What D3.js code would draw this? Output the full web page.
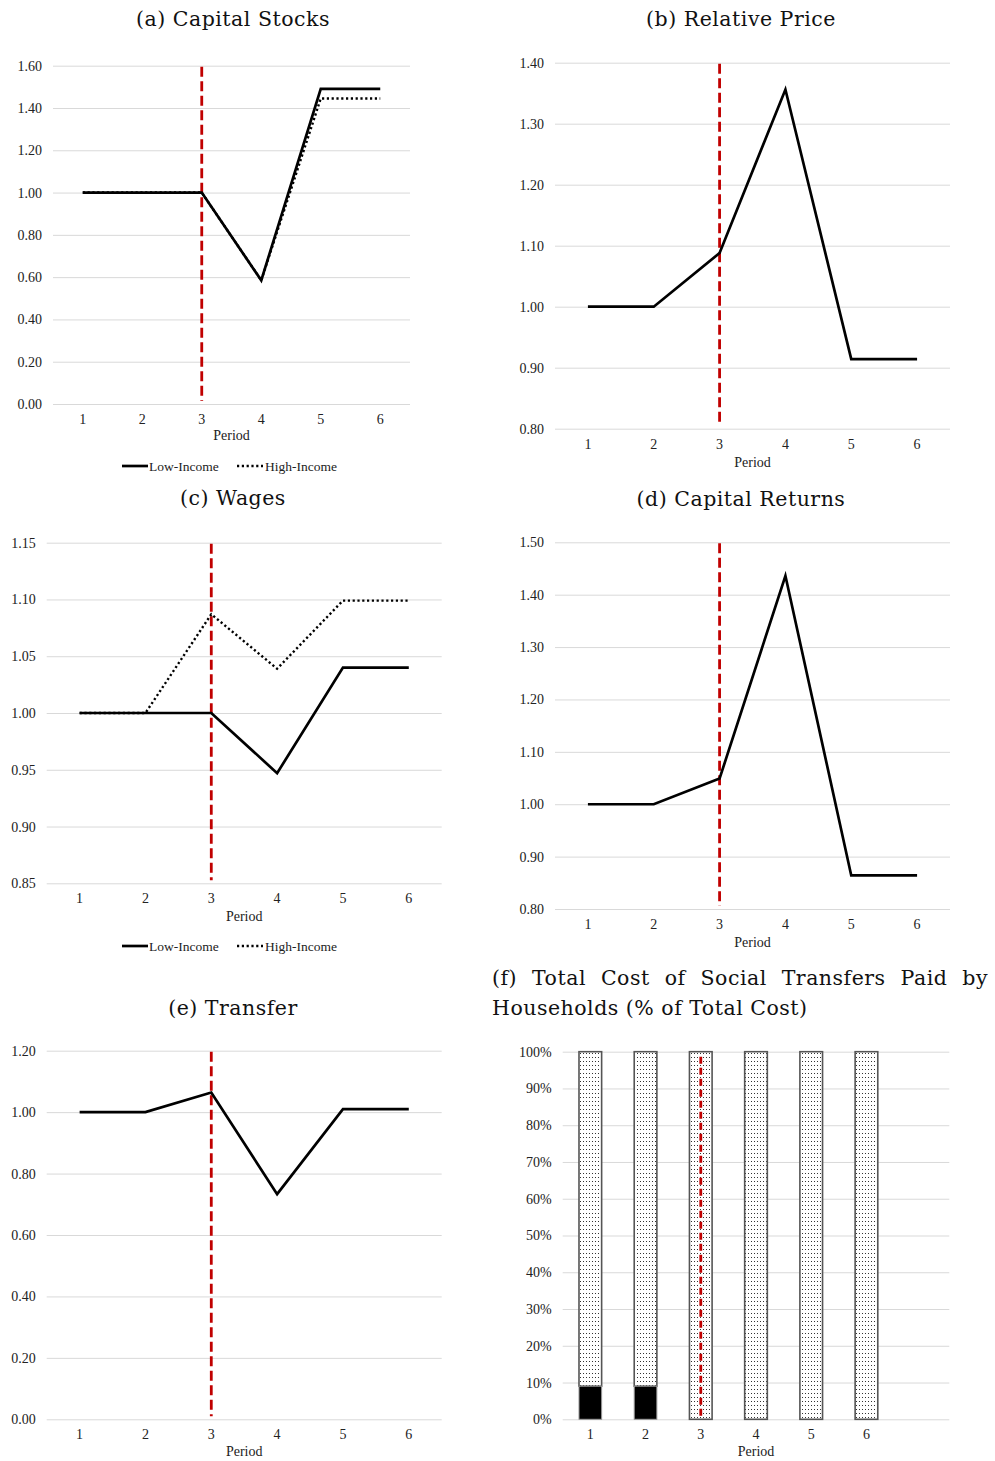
<!DOCTYPE html>
<html>
<head>
<meta charset="utf-8">
<script src="https://cdn.jsdelivr.net/npm/d3@7"></script>
<style>
  body { margin: 0; background: #fff; }
  .tick text { font-family: "Liberation Serif", serif; font-size: 14px; fill: #222; }
  .title { font-family: "DejaVu Serif", serif; font-size: 20.5px; letter-spacing: 0.5px; fill: #111; }
  .axis-label { font-family: "Liberation Serif", serif; font-size: 14px; fill: #222; }
  .legend { font-family: "Liberation Serif", serif; font-size: 13.5px; fill: #222; }
</style>
</head>
<body>
<div id="plot"></div>
<script>
// values
const periods = [1, 2, 3, 4, 5, 6];
const shockPeriod = 3;

const capitalLow  = [1.00, 1.00, 1.00, 0.585, 1.49, 1.49];
const capitalHigh = [1.00, 1.00, 1.00, 0.585, 1.445, 1.445];
const relPrice    = [1.00, 1.00, 1.088, 1.356, 0.914, 0.914];
const wagesLow    = [1.00, 1.00, 1.00, 0.947, 1.040, 1.040];
const wagesHigh   = [1.00, 1.00, 1.087, 1.039, 1.099, 1.099];
const capReturns  = [1.00, 1.00, 1.049, 1.436, 0.864, 0.864];
const transfer    = [1.00, 1.00, 1.064, 0.733, 1.010, 1.010];

// panel (f): share of total cost (%)
const costLowShare  = [9, 9, 0, 0, 0, 0];
const costHighShare = [91, 91, 100, 100, 100, 100];

const ticksCapital  = [0, 0.2, 0.4, 0.6, 0.8, 1.0, 1.2, 1.4, 1.6];
const ticksPrice    = [0.8, 0.9, 1.0, 1.1, 1.2, 1.3, 1.4];
const ticksWages    = [0.85, 0.90, 0.95, 1.00, 1.05, 1.10, 1.15];
const ticksReturns  = [0.8, 0.9, 1.0, 1.1, 1.2, 1.3, 1.4, 1.5];
const ticksTransfer = [0, 0.2, 0.4, 0.6, 0.8, 1.0, 1.2];
const ticksPercent  = [0, 10, 20, 30, 40, 50, 60, 70, 80, 90, 100];

const seriesNames = ["Low-Income", "High-Income"];

const width = 995, height = 1461;

const svg = d3.select("#plot")
  .append("svg")
    .attr("width", width)
    .attr("height", height);

// dotted fill for the bars
const defs = svg.append("defs");
const pat = defs.append("pattern")
    .attr("id", "dots")
    .attr("patternUnits", "userSpaceOnUse")
    .attr("width", 3)
    .attr("height", 4);
pat.append("rect").attr("width", 3).attr("height", 4).attr("fill", "#fff");
pat.append("rect").attr("x", 1).attr("y", 1).attr("width", 1).attr("height", 1).attr("fill", "#333");

function gridAxis(g, y, x0, x1, ticks, fmt) {
  const ax = g.append("g")
      .attr("transform", "translate(" + x0 + ",0)")
      .call(d3.axisLeft(y).tickValues(ticks).tickFormat(fmt).tickSize(-(x1 - x0)).tickPadding(11));
  ax.select(".domain").remove();
  ax.selectAll(".tick line").attr("stroke", "#d9d9d9").attr("stroke-width", 1);
}

function xAxis(g, x, yPos, labelX, labelY) {
  const ax = g.append("g")
      .attr("transform", "translate(0," + yPos + ")")
      .call(d3.axisBottom(x).tickValues(periods).tickSize(0).tickPadding(10));
  ax.select(".domain").remove();
  g.append("text")
      .attr("class", "axis-label")
      .attr("x", labelX)
      .attr("y", labelY)
      .attr("text-anchor", "middle")
      .text("Period");
}

function shockLine(g, x, yTop, yBot, dash) {
  g.append("line")
      .attr("x1", x(shockPeriod) + x.bandwidth() / 2)
      .attr("x2", x(shockPeriod) + x.bandwidth() / 2)
      .attr("y1", yTop)
      .attr("y2", yBot)
      .attr("stroke", "#c00000")
      .attr("stroke-width", 2.8)
      .attr("stroke-dasharray", dash);
}

function linePanel(cfg) {
  const g = svg.append("g");

  g.append("text")
      .attr("class", "title")
      .attr("x", cfg.titleX)
      .attr("y", cfg.titleY)
      .attr("text-anchor", "middle")
      .text(cfg.title);

  const x = d3.scaleBand().domain(periods).range([cfg.x0, cfg.x1]);
  const y = d3.scaleLinear().domain(cfg.domain).range([cfg.yBot, cfg.yTop]);

  gridAxis(g, y, cfg.x0, cfg.x1, cfg.ticks, d3.format(".2f"));
  xAxis(g, x, cfg.yBot, (cfg.x0 + cfg.x1) / 2, cfg.labelY);
  shockLine(g, x, cfg.yTop + 1, cfg.yBot - 3, "10,4.5");

  const line = d3.line()
      .x(function(d, i) { return x(periods[i]) + x.bandwidth() / 2; })
      .y(function(d) { return y(d); });

  if (cfg.high) {
    g.append("path")
        .attr("d", line(cfg.high))
        .attr("fill", "none")
        .attr("stroke", "#000")
        .attr("stroke-width", 2.4)
        .attr("stroke-dasharray", "2.2,2.6");
  }
  g.append("path")
      .attr("d", line(cfg.low))
      .attr("fill", "none")
      .attr("stroke", "#000")
      .attr("stroke-width", 2.7)
      .attr("stroke-linejoin", "miter");

  if (cfg.legendY) {
    const lg = g.append("g").attr("transform", "translate(122," + cfg.legendY + ")");
    lg.append("line").attr("x1", 0).attr("x2", 26).attr("y1", 0).attr("y2", 0)
        .attr("stroke", "#000").attr("stroke-width", 2.7);
    lg.append("text").attr("class", "legend").attr("x", 27).attr("y", 4.5).text(seriesNames[0]);
    lg.append("line").attr("x1", 115).attr("x2", 141).attr("y1", 0).attr("y2", 0)
        .attr("stroke", "#000").attr("stroke-width", 2.4).attr("stroke-dasharray", "2.2,2.6");
    lg.append("text").attr("class", "legend").attr("x", 143).attr("y", 4.5).text(seriesNames[1]);
  }
}

linePanel({ title: "(a) Capital Stocks", titleX: 233, titleY: 26,
  x0: 53, x1: 410, yTop: 65.7, yBot: 404, domain: [0, 1.6], ticks: ticksCapital,
  low: capitalLow, high: capitalHigh, labelY: 440, legendY: 466 });

linePanel({ title: "(b) Relative Price", titleX: 741, titleY: 26,
  x0: 555, x1: 950, yTop: 62.7, yBot: 428.7, domain: [0.8, 1.4], ticks: ticksPrice,
  low: relPrice, labelY: 467 });

linePanel({ title: "(c) Wages", titleX: 233, titleY: 505,
  x0: 46.7, x1: 441.7, yTop: 542.7, yBot: 883.3, domain: [0.85, 1.15], ticks: ticksWages,
  low: wagesLow, high: wagesHigh, labelY: 921, legendY: 946 });

linePanel({ title: "(d) Capital Returns", titleX: 741, titleY: 506,
  x0: 555, x1: 950, yTop: 542.3, yBot: 909, domain: [0.8, 1.5], ticks: ticksReturns,
  low: capReturns, labelY: 947 });

linePanel({ title: "(e) Transfer", titleX: 233, titleY: 1015,
  x0: 46.7, x1: 441.7, yTop: 1050.7, yBot: 1419.3, domain: [0, 1.2], ticks: ticksTransfer,
  low: transfer, labelY: 1456 });

// panel (f): stacked 100% bars
(function() {
  const g = svg.append("g");
  const t1 = g.append("text")
      .attr("class", "title")
      .attr("x", 492)
      .attr("y", 985)
      .text("(f) Total Cost of Social Transfers Paid by");
  // justify the first line by widening the word gaps
  const natural = t1.node().getComputedTextLength();
  t1.style("word-spacing", ((496 - natural) / 7) + "px");
  g.append("text")
      .attr("class", "title")
      .attr("x", 492)
      .attr("y", 1015)
      .text("Households (% of Total Cost)");

  const x0 = 562.7, x1 = 949.3, yTop = 1051.7, yBot = 1419.3;
  const xEnd = x0 + (x1 - x0) * 6 / 7;
  const x = d3.scaleBand().domain(periods).range([x0, xEnd]).paddingInner(0.59).paddingOuter(0.295);
  const y = d3.scaleLinear().domain([0, 100]).range([yBot, yTop]);

  gridAxis(g, y, x0, x1, ticksPercent, function(d) { return d + "%"; });

  const xb = d3.scaleBand().domain(periods).range([x0, xEnd]);
  xAxis(g, xb, yBot, (x0 + x1) / 2, 1456);

  const rows = periods.map(function(p, i) {
    return { period: p, low: costLowShare[i], high: costHighShare[i] };
  });

  g.selectAll(".bar-high")
    .data(rows)
    .enter().append("rect")
      .attr("class", "bar-high")
      .attr("x", function(d) { return x(d.period); })
      .attr("width", x.bandwidth())
      .attr("y", function(d) { return y(d.low + d.high); })
      .attr("height", function(d) { return y(d.low) - y(d.low + d.high); })
      .attr("fill", "url(#dots)")
      .attr("stroke", "#555")
      .attr("stroke-width", 1.6);

  g.selectAll(".bar-low")
    .data(rows.filter(function(d) { return d.low > 0; }))
    .enter().append("rect")
      .attr("class", "bar-low")
      .attr("x", function(d) { return x(d.period); })
      .attr("width", x.bandwidth())
      .attr("y", function(d) { return y(d.low); })
      .attr("height", function(d) { return y(0) - y(d.low); })
      .attr("fill", "#000")
      .attr("stroke", "#999")
      .attr("stroke-width", 1);

  shockLine(g, xb, yTop + 5, yBot, "7,4");
})();
</script>
</body>
</html>
